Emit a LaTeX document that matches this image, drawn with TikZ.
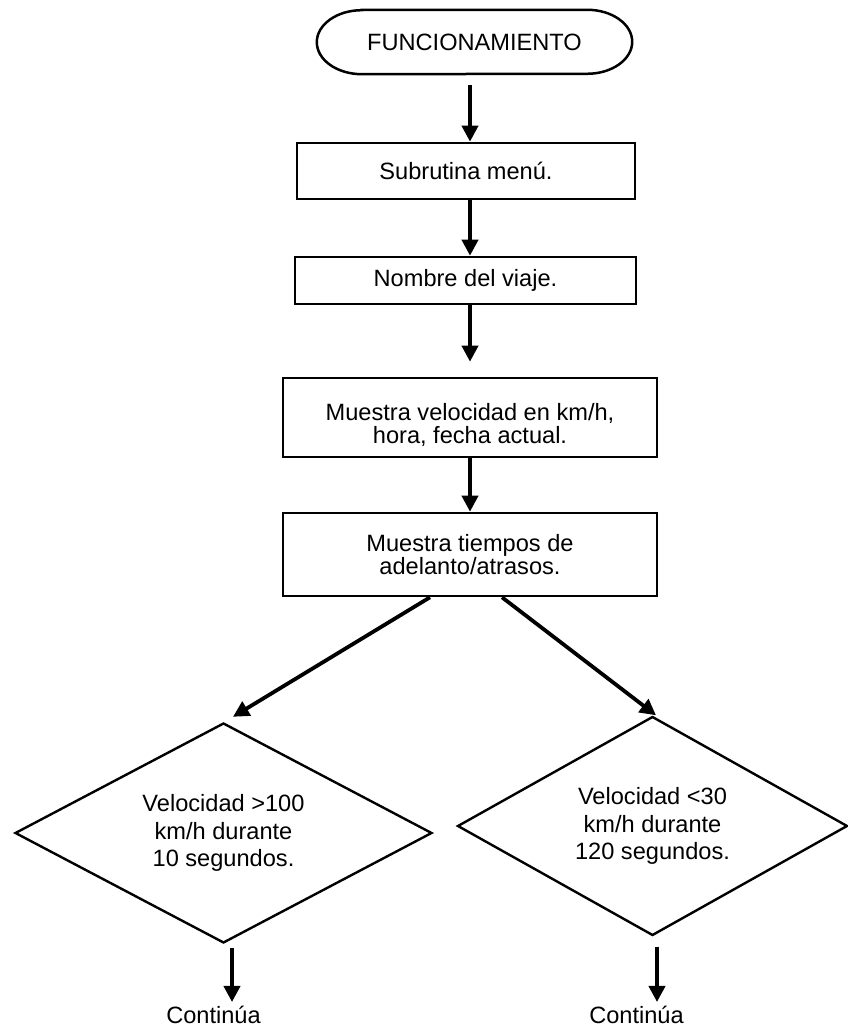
\documentclass[tikz,border=0pt]{standalone}
\usepackage{fontspec}
\setmainfont{Liberation Sans}
\usetikzlibrary{arrows.meta,shapes.geometric}

\begin{document}
\begin{tikzpicture}[x=1pt, y=1pt,
  txt/.style={font=\fontsize{23.6}{23}\selectfont, align=center, inner sep=0pt},
  procbox/.style={draw, line width=2.6pt, inner sep=0pt, font=\fontsize{23.6}{23}\selectfont, align=center},
  decision/.style={draw, shape=diamond, aspect=1.9, line width=2.4pt, inner sep=0pt,
    font=\fontsize{23.6}{27.5}\selectfont, align=center},
  arr/.style={line width=3.8pt, -{Triangle[width=16pt,length=16pt]}},
  outline/.style={line width=2.5pt}
]
\useasboundingbox (0,0) rectangle (847,1027);

% start terminal (stadium with elliptical ends)
\node[txt, minimum width=315pt, minimum height=64pt] (start) at (474.5,985) {FUNCIONAMIENTO};
\draw[outline] ([xshift=45pt]start.north west) -- ([xshift=-45pt]start.north east)
  arc[start angle=90, end angle=-90, x radius=45pt, y radius=32pt]
  -- ([xshift=45pt]start.south west)
  arc[start angle=270, end angle=90, x radius=45pt, y radius=32pt] -- cycle;

% process steps
\node[procbox, minimum width=338pt, minimum height=56pt] (b1) at (466,856) {Subrutina menú.};
\node[procbox, minimum width=341pt, minimum height=47pt] (b2) at (465.5,746.5) {Nombre del viaje.};
\node[procbox, minimum width=374pt, minimum height=79pt] (b3) at (470,609.5) {};
\node[txt] (b3t) at (470,602) {Muestra velocidad en km/h,\\hora, fecha actual.};
\node[procbox, minimum width=374pt, minimum height=83pt] (b4) at (470,472.5) {Muestra tiempos de\\adelanto/atrasos.};

% decisions
\node[decision, minimum width=417pt, minimum height=220pt] (d1) at (223.5,194)
  {Velocidad >100\\km/h durante\\10 segundos.};
\node[decision, minimum width=390pt, minimum height=219pt] (d2) at (652.5,201)
  {Velocidad <30\\km/h durante\\120 segundos.};

% continuation labels
\node[txt, anchor=base] (c1) at (213.5,3) {Continúa};
\node[txt, anchor=base] (c2) at (636.5,3) {Continúa};

% connectors
\coordinate (spine) at (470,0);
\draw[arr, shorten <=11pt] (start.south -| spine) -- (b1.north -| spine);
\draw[arr] (b1.south -| spine) -- (b2.north -| spine);
\draw[arr, shorten >=15pt] (b2.south -| spine) -- (b3.north -| spine);
\draw[arr] (b3.south -| spine) -- (b4.north -| spine);

\draw[arr] ([xshift=-40pt]b4.south) -- ([xshift=9.5pt,yshift=5pt]d1.north);
\draw[arr] ([xshift=32pt]b4.south) -- ([xshift=3.5pt]d2.north);

\coordinate (tip1) at (232,25);
\coordinate (tip2) at (657,25);
\draw[arr, shorten <=4pt] (d1.south -| tip1) -- (tip1);
\draw[arr, shorten <=10pt] (d2.south -| tip2) -- (tip2);
\end{tikzpicture}
\end{document}
